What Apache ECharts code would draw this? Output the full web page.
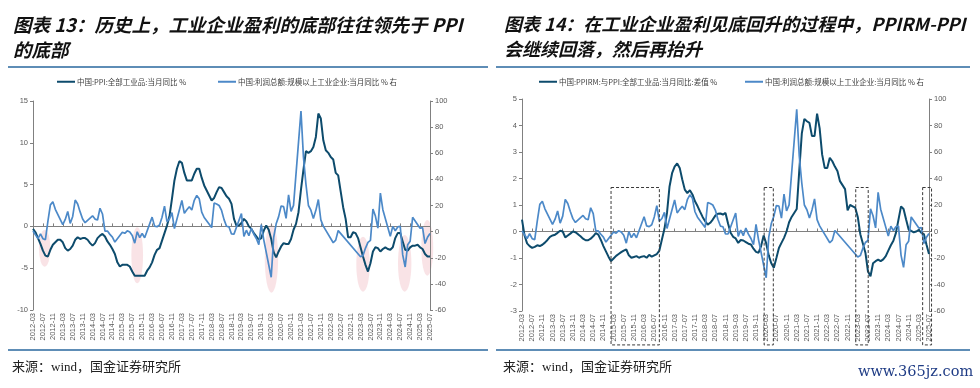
<!DOCTYPE html>
<html><head><meta charset="utf-8">
<script src="https://cdn.jsdelivr.net/npm/echarts@6/dist/echarts.min.js"></script>
<style>html,body{margin:0;padding:0;background:#fff}#c{width:980px;height:388px}</style>
</head><body><div id="c"></div>
<script>
// ---- categories: monthly 2012-03 .. 2025-07 ----
const months = [];
for (let y = 2012; y <= 2025; y++) {
  for (let m = 1; m <= 12; m++) {
    if (y === 2012 && m < 3) continue;
    if (y === 2025 && m > 7) break;
    months.push(y + '-' + (m < 10 ? '0' : '') + m);
  }
}

// ---- series names ----
const namePPI = '中国:PPI:全部工业品:当月同比 %';
const nameDiff = '中国:PPIRM:与PPI:全部工业品:当月同比:差值 %';
const nameProfit = '中国:利润总额:规模以上工业企业:当月同比 % 右';

// ---- PPI YoY (%) 2012-03 .. 2025-07 ----
const ppi = [
  -0.3,-0.7,-1.4,-2.1,-2.9,-3.5,-3.6,-2.8,-2.2,-1.9,
  -1.6,-1.6,-1.9,-2.6,-2.9,-2.7,-2.3,-1.6,-1.3,-1.5,-1.4,-1.4,
  -1.6,-2.0,-2.3,-2.0,-1.4,-1.1,-0.9,-1.2,-1.8,-2.2,-2.7,-3.3,
  -4.3,-4.8,-4.6,-4.6,-4.6,-4.8,-5.4,-5.9,-5.9,-5.9,-5.9,-5.9,
  -5.3,-4.9,-4.3,-3.4,-2.8,-2.6,-1.7,-0.8,0.1,1.2,3.3,5.5,
  6.9,7.8,7.6,6.4,5.5,5.5,5.5,6.3,6.9,6.9,5.8,4.9,
  4.3,3.7,3.1,3.4,4.1,4.7,4.6,4.1,3.6,3.3,2.7,0.9,
  0.1,0.1,0.4,0.9,0.6,0.0,-0.3,-0.8,-1.2,-1.6,-1.4,-0.5,
  0.1,-0.4,-1.5,-3.1,-3.7,-3.0,-2.4,-2.0,-2.1,-2.1,-1.5,-0.4,
  0.3,1.7,4.4,6.8,9.0,8.8,9.0,9.5,10.7,13.5,12.9,10.3,
  9.1,8.8,8.3,8.0,6.4,6.1,4.2,2.3,0.9,-1.3,-1.3,-0.7,
  -0.8,-1.4,-2.5,-3.6,-4.6,-5.4,-4.4,-3.0,-2.5,-2.6,-3.0,-2.7,
  -2.5,-2.7,-2.8,-2.5,-1.4,-0.8,-0.8,-1.8,-2.8,-2.9,-2.5,-2.3,
  -2.3,-2.2,-2.5,-2.7,-3.3,-3.6,-3.6
];

// ---- PPIRM minus PPI YoY (pct pt) ----
const diff = [
  0.45,-0.15,-0.45,-0.55,-0.62,-0.58,-0.52,-0.55,-0.5,-0.42,
  -0.32,-0.2,-0.15,-0.12,-0.05,0.03,0.0,-0.22,-0.15,-0.08,0.0,-0.03,
  -0.1,-0.18,-0.27,-0.33,-0.33,-0.27,-0.18,-0.06,-0.12,-0.32,-0.55,-0.75,
  -0.95,-1.12,-1.02,-0.92,-0.85,-0.78,-0.72,-0.68,-0.9,-0.99,-0.96,-0.93,
  -0.99,-0.95,-0.93,-0.99,-0.88,-0.95,-0.9,-0.85,-0.72,-0.3,0.1,0.7,
  1.7,2.2,2.45,2.57,2.4,1.96,1.58,1.45,1.56,1.4,1.14,0.96,
  0.75,0.55,0.39,0.26,0.33,0.45,0.6,0.67,0.68,0.64,0.7,0.3,
  -0.05,-0.2,-0.26,-0.43,-0.32,-0.34,-0.4,-0.46,-0.49,-0.65,-0.77,-0.8,
  -0.55,-0.15,-0.45,-0.9,-1.2,-1.37,-1.0,-0.62,-0.43,-0.24,0.0,0.35,
  0.55,0.7,0.85,2.3,3.7,4.25,4.16,4.1,3.6,3.6,4.45,3.9,
  2.9,2.4,2.4,2.78,2.65,2.45,2.28,1.9,1.75,1.6,0.8,1.0,
  0.95,0.9,0.55,-0.1,-0.45,-0.8,-1.5,-1.69,-1.2,-1.12,-1.06,-1.12,
  -1.05,-0.93,-0.72,-0.52,-0.35,-0.05,0.45,0.95,0.85,0.45,0.08,0.02,
  -0.03,0.0,0.06,-0.05,-0.1,-0.49,-0.85
];

// ---- industrial profit, single-month YoY (%) ; null = not published ----
const profit = [
  0.5,-2.5,-5.3,-1.7,-5.4,-6.2,7.8,20.5,22.8,17.1,
  null,null,5.3,9.3,15.5,6.3,11.6,24.2,21.1,15.1,9.7,6.8,
  null,null,12.1,9.6,8.9,17.9,13.5,0.4,0.4,-2.1,-4.2,-8.0,
  null,null,-0.4,-1.3,0.6,-0.3,-2.9,-8.8,-0.1,-4.6,-1.4,-4.7,
  null,null,11.1,4.2,3.7,5.1,11.0,19.5,7.7,9.8,14.5,2.3,
  null,null,23.8,14.0,16.7,19.1,16.5,24.0,27.7,25.1,14.9,10.8,
  null,null,3.1,21.9,21.1,20.0,16.2,9.2,4.1,3.6,-1.8,-1.9,
  null,null,13.9,-3.7,1.1,-3.1,2.6,-2.0,-5.3,-9.9,5.4,-6.3,
  null,null,-34.9,-4.3,6.0,11.5,19.6,19.1,10.1,28.2,15.5,20.1,
  null,null,92.3,57.0,36.4,20.0,16.4,10.1,16.3,24.6,9.0,4.2,
  null,null,null,-8.5,-6.5,0.8,null,null,null,null,null,null,
  null,null,-19.2,-18.2,-12.6,-8.3,-6.7,17.2,11.9,2.7,29.5,16.8,
  null,null,-3.5,4.0,0.7,3.6,4.1,-17.8,-27.1,-10.0,-7.3,11.0,
  null,null,2.6,3.0,-9.1,-4.3,-1.5
];

// ---- annotations (data space) ----
// left chart troughs: [centre month index, top value, bottom value, half width in months]
const troughZones = [[4.7,-0.43,-4.82,2.3],[42,-0.11,-6.81,2.35],[96.1,0.29,-7.93,2.7],
                     [133,-1.23,-7.81,2.7],[149.8,-1.03,-7.81,2.7],[158.9,0.77,-5.9,2.4]];
// right chart dashed boxes: [from month index, to month index]
const boxSpans = [[35.0,54.0],[95.2,98.8],[131.2,136.1],[157.5,161.0]];
const boxTop = 1.66, boxBottom = -4.28;

const DARK = '#0D4B6C', LIGHT = '#4C89C8', AXIS = '#808080', LAB = '#595959';
const SANS = '"Liberation Sans", Arial, sans-serif';
const CJK = '"Noto Sans CJK SC", sans-serif';

const chart = echarts.init(document.getElementById('c'), null, {renderer: 'canvas'});

function xLabelAxis(g) {
  return {
    type: 'category', gridIndex: g, data: months, boundaryGap: false, position: 'bottom',
    axisLine: {show: false, onZero: false}, axisTick: {show: false},
    axisLabel: {interval: 3, rotate: 90, fontSize: 7.5, color: LAB, fontFamily: SANS, margin: 3},
    splitLine: {show: false}
  };
}
function xZeroAxis(g, yi) {
  return {
    type: 'category', gridIndex: g, data: months, boundaryGap: false, position: 'top',
    axisLine: {show: true, onZero: true, onZeroAxisIndex: yi, lineStyle: {color: AXIS, width: 1}},
    axisTick: {show: true, interval: 3, length: 3, inside: false, lineStyle: {color: AXIS}},
    axisLabel: {show: false}, splitLine: {show: false}
  };
}
function yAxis(g, pos, min, max, interval) {
  return {
    type: 'value', gridIndex: g, position: pos, min: min, max: max, interval: interval,
    axisLine: {show: true, lineStyle: {color: AXIS, width: 1}},
    axisTick: {show: true, length: 3, lineStyle: {color: AXIS}},
    axisLabel: {fontSize: 7.5, color: LAB, fontFamily: SANS, margin: 5},
    splitLine: {show: false}
  };
}
function legendAt(name, left) {
  return {
    data: [name], left: left, top: 78, padding: 0, itemWidth: 18, itemHeight: 2, icon: 'rect',
    selectedMode: false,
    textStyle: {fontSize: 7.5, color: '#404040', fontFamily: CJK, padding: [0,0,0,-3]}
  };
}

chart.setOption({
  animation: false,
  backgroundColor: '#fff',
  grid: [
    {left: 33, top: 101, width: 397, height: 209, outerBoundsMode: 'none'},
    {left: 522, top: 99, width: 407, height: 212, outerBoundsMode: 'none'}
  ],
  xAxis: [xLabelAxis(0), xZeroAxis(0, 0), xLabelAxis(1), xZeroAxis(1, 2)],
  yAxis: [
    yAxis(0, 'left', -10, 15, 5), yAxis(0, 'right', -60, 100, 20),
    yAxis(1, 'left', -3, 5, 1), yAxis(1, 'right', -60, 100, 20)
  ],
  legend: [legendAt(namePPI, 57), legendAt(nameProfit, 218), legendAt(nameDiff, 539), legendAt(nameProfit, 745)],
  series: [
    {name: namePPI, type: 'line', xAxisIndex: 0, yAxisIndex: 0, data: ppi, symbol: 'none',
     lineStyle: {color: DARK, width: 2}, itemStyle: {color: DARK}},
    {name: nameProfit, type: 'line', xAxisIndex: 0, yAxisIndex: 1, data: profit, symbol: 'none', connectNulls: true,
     lineStyle: {color: LIGHT, width: 1.7}, itemStyle: {color: LIGHT}},
    {name: nameDiff, type: 'line', xAxisIndex: 2, yAxisIndex: 2, data: diff, symbol: 'none',
     lineStyle: {color: DARK, width: 2}, itemStyle: {color: DARK}},
    {name: nameProfit, type: 'line', xAxisIndex: 2, yAxisIndex: 3, data: profit, symbol: 'none', connectNulls: true,
     lineStyle: {color: LIGHT, width: 1.7}, itemStyle: {color: LIGHT}}
  ]
});

// ---- decorations positioned through the chart's own scales ----
function monthX(xi, yi, m) {
  const a = chart.convertToPixel({xAxisIndex: xi, yAxisIndex: yi}, [0, 0]);
  const b = chart.convertToPixel({xAxisIndex: xi, yAxisIndex: yi}, [months.length - 1, 0]);
  return a[0] + (b[0] - a[0]) * m / (months.length - 1);
}
function valY(xi, yi, v) {
  return chart.convertToPixel({xAxisIndex: xi, yAxisIndex: yi}, [0, v])[1];
}

const g = [];
troughZones.forEach(function (z) {
  const cx = monthX(0, 0, z[0]);
  const y1 = valY(0, 0, z[1]), y2 = valY(0, 0, z[2]);
  const hw = monthX(0, 0, z[0] + z[3]) - cx;
  const ry = (y2 - y1) / 2;
  g.push({type: 'circle', x: cx, y: (y1 + y2) / 2, scaleX: hw / ry, scaleY: 1, z: 0,
          shape: {cx: 0, cy: 0, r: ry}, style: {fill: 'rgba(243,200,205,0.5)'}, silent: true});
});
boxSpans.forEach(function (s) {
  const x1 = monthX(2, 2, s[0]), x2 = monthX(2, 2, s[1]);
  const y1 = valY(2, 2, boxTop), y2 = valY(2, 2, boxBottom);
  g.push({type: 'rect', z: 20, shape: {x: x1, y: y1, width: x2 - x1, height: y2 - y1},
          style: {fill: 'none', stroke: '#3a3a3a', lineWidth: 1, lineDash: [3, 2]}, silent: true});
});

const titleFont = {fontWeight: 'bold', fontStyle: 'italic', fontFamily: CJK, fill: '#111', lineHeight: 25};
g.push({type: 'text', x: 13, y: 12, style: Object.assign({text: '图表 13：历史上，工业企业盈利的底部往往领先于 PPI\n的底部', fontSize: 18.5}, titleFont)});
g.push({type: 'text', x: 504, y: 12, style: Object.assign({text: '图表 14：在工业企业盈利见底回升的过程中，PPIRM-PPI\n会继续回落，然后再抬升', fontSize: 18}, titleFont)});
[[8, 488], [496, 970]].forEach(function (p) {
  g.push({type: 'line', shape: {x1: p[0], y1: 67, x2: p[1], y2: 67}, style: {stroke: '#5E8DB6', lineWidth: 2}});
  g.push({type: 'line', shape: {x1: p[0], y1: 350, x2: p[1], y2: 350}, style: {stroke: '#5E8DB6', lineWidth: 2}});
});
const srcFont = {fontSize: 13, fontFamily: '"Liberation Serif", "Noto Sans CJK SC", serif', fill: '#222', verticalAlign: 'middle'};
g.push({type: 'text', x: 12, y: 368, style: Object.assign({text: '来源：wind，国金证券研究所'}, srcFont)});
g.push({type: 'text', x: 503, y: 368, style: Object.assign({text: '来源：wind，国金证券研究所'}, srcFont)});
g.push({type: 'text', x: 858, y: 372, style: {text: 'www.365jz.com', fontSize: 14.5, fontFamily: '"DejaVu Serif", serif',
        fill: '#1F3C85', verticalAlign: 'middle'}});

chart.setOption({graphic: {elements: g}});
</script>
</body></html>
